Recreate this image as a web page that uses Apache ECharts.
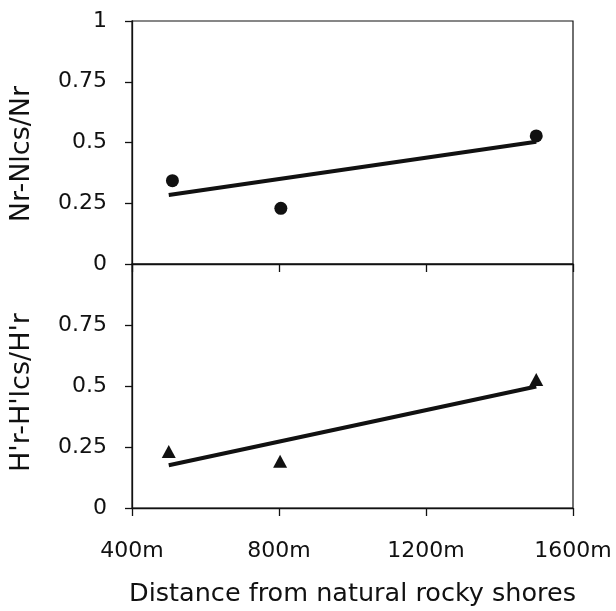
<!DOCTYPE html>
<html>
<head>
<meta charset="utf-8">
<script src="https://cdn.jsdelivr.net/npm/echarts@6/dist/echarts.min.js"></script>
<style>html,body{margin:0;padding:0;background:#fff}#c{width:616px;height:611px}</style>
</head>
<body>
<div id="c"></div>
<script>
// Data
const topDistances = [510, 805, 1500];
const bottomDistances = [500, 803, 1500];
const nrValues = [0.343, 0.229, 0.527];
const hrValues = [0.232, 0.192, 0.527];
const trendX = [500, 1500];
const nrTrend = [0.284, 0.503];
const hrTrend = [0.175, 0.498];
const xTicks = [400, 800, 1200, 1600];
const yTicks = [0, 0.25, 0.5, 0.75, 1];
const topYName = "Nr-Nlcs/Nr";
const bottomYName = "H'r-H'lcs/H'r";
const xName = "Distance from natural rocky shores";

const pairs = (xs, ys) => xs.map((x, i) => [x, ys[i]]);
const FONT = 'DejaVu Sans';
const INK = '#111';

const chart = echarts.init(document.getElementById('c'), null, {renderer: 'canvas'});

function xAxis(gridIndex, showLabels) {
  return {
    type: 'value', gridIndex, min: xTicks[0], max: xTicks[xTicks.length - 1], interval: 400,
    name: showLabels ? xName : '', nameLocation: 'middle', nameGap: 73,
    nameTextStyle: {fontFamily: FONT, fontSize: 25.5, color: INK},
    axisLine: {show: true, lineStyle: {color: INK, width: 1.3}},
    axisTick: {show: true, inside: false, length: 8, lineStyle: {color: INK, width: 1.3}},
    axisLabel: {show: showLabels, margin: 32, fontFamily: FONT, fontSize: 22, color: INK,
      formatter: v => v + 'm'},
    splitLine: {show: false}
  };
}
function yAxis(gridIndex, name, showMax, shift) {
  return {
    type: 'value', gridIndex, min: yTicks[0], max: yTicks[yTicks.length - 1], interval: 0.25,
    name, nameLocation: 'middle', nameGap: 97,
    nameTextStyle: {fontFamily: FONT, fontSize: 27, color: INK, padding: [0, shift, 0, 0]},
    axisLine: {show: true, lineStyle: {color: INK, width: 1.3}},
    axisTick: {show: true, inside: false, length: 7, lineStyle: {color: INK, width: 1.3}},
    axisLabel: {margin: 25, fontFamily: FONT, fontSize: 22, color: INK, showMaxLabel: showMax,
      formatter: v => String(v)},
    splitLine: {show: false}
  };
}

chart.setOption({
  animation: false,
  backgroundColor: '#fff',
  grid: [
    {left: 132, right: 43, top: 21, height: 243, show: true, borderColor: INK, borderWidth: 1.2, backgroundColor: 'transparent'},
    {left: 132, right: 43, top: 264, height: 244, show: true, borderColor: INK, borderWidth: 1.2, backgroundColor: 'transparent'}
  ],
  xAxis: [xAxis(0, false), xAxis(1, true)],
  yAxis: [yAxis(0, topYName, true, 23), yAxis(1, bottomYName, false, 13)],
  series: [
    {type: 'line', xAxisIndex: 0, yAxisIndex: 0, data: pairs(trendX, nrTrend), symbol: 'none',
      lineStyle: {color: INK, width: 4}, z: 2},
    {type: 'scatter', xAxisIndex: 0, yAxisIndex: 0, data: pairs(topDistances, nrValues), symbol: 'circle',
      symbolSize: 13, itemStyle: {color: INK, opacity: 1}, z: 3},
    {type: 'line', xAxisIndex: 1, yAxisIndex: 1, data: pairs(trendX, hrTrend), symbol: 'none',
      lineStyle: {color: INK, width: 4}, z: 2},
    {type: 'scatter', xAxisIndex: 1, yAxisIndex: 1, data: pairs(bottomDistances, hrValues), symbol: 'triangle',
      symbolSize: [14, 13], itemStyle: {color: INK, opacity: 1}, z: 3}
  ]
});
</script>
</body>
</html>
